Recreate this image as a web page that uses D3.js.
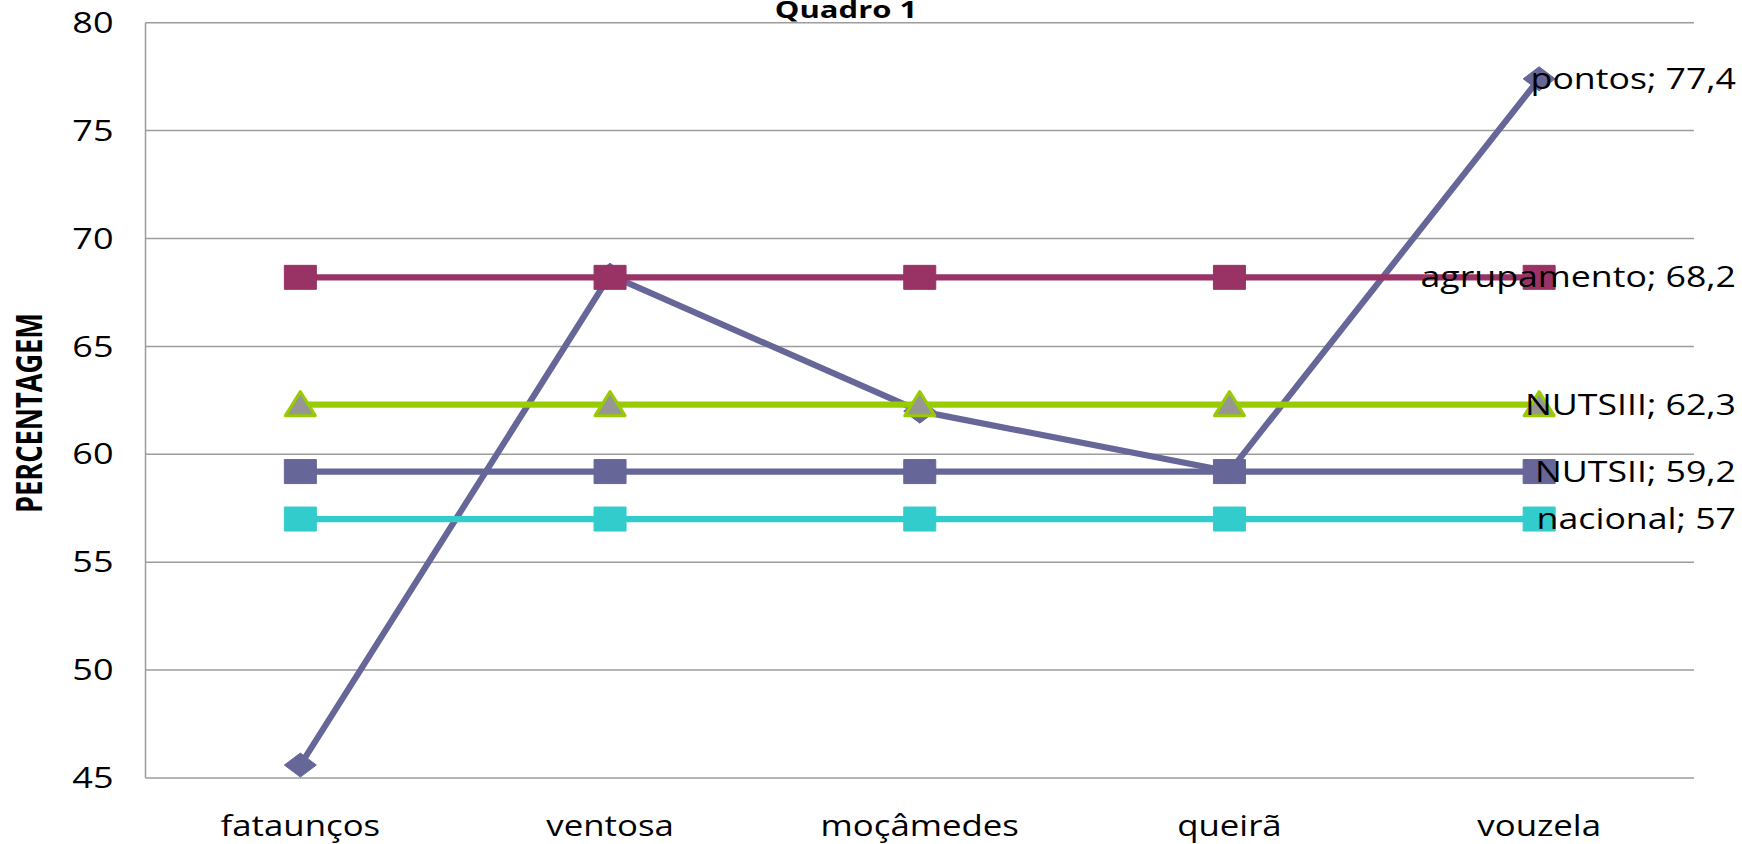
<!DOCTYPE html>
<html>
<head>
<meta charset="utf-8">
<script src="https://cdn.jsdelivr.net/npm/d3@7"></script>
<style>
  html, body { margin: 0; padding: 0; background: #fff; }
  svg { display: block; font-family: "Open Sans", "Noto Sans", sans-serif; }
  .grid line { stroke: #9c9c9c; stroke-width: 1.5; }
  .axis path, .axis line { display: none; }
</style>
</head>
<body>
<svg id="chart" width="1742" height="844"></svg>
<script>
// Quadro 1 — percentagem por local, com referências (agrupamento, NUTS, nacional)

const categories = ['fataunços', 'ventosa', 'moçâmedes', 'queirã', 'vouzela'];
const pontos = [45.6, 68.3, 62.0, 59.2, 77.4];
const agrupamento = [68.2, 68.2, 68.2, 68.2, 68.2];
const nutsIII = [62.3, 62.3, 62.3, 62.3, 62.3];
const nutsII = [59.2, 59.2, 59.2, 59.2, 59.2];
const nacional = [57, 57, 57, 57, 57];
const yTicks = [45, 50, 55, 60, 65, 70, 75, 80];

const series = [
  { name: 'pontos', values: pontos, line: '#666699', fill: '#666699', marker: 'diamond' },
  { name: 'agrupamento', values: agrupamento, line: '#993366', fill: '#993366', marker: 'square' },
  { name: 'NUTSIII', values: nutsIII, line: '#99cc00', fill: '#969696', marker: 'triangle' },
  { name: 'NUTSII', values: nutsII, line: '#666699', fill: '#666699', marker: 'square' },
  { name: 'nacional', values: nacional, line: '#33cccc', fill: '#33cccc', marker: 'square' },
];

const svg = d3.select('#chart');
const m = { left: 145.5, right: 1694, top: 22.7, bottom: 778 };

const x = d3.scaleBand().domain(categories).range([m.left, m.right]);
const cx = c => x(c) + x.bandwidth() / 2;
const y = d3.scaleLinear().domain([45, 80]).range([m.bottom, m.top]);

// the source picture is stretched sideways, so text gets widened too
function widen(sel, k) {
  sel.each(function () {
    const w = this.getComputedTextLength();
    d3.select(this).attr('textLength', w * k).attr('lengthAdjust', 'spacingAndGlyphs');
  });
}

// gridlines
svg.append('g').attr('class', 'grid')
  .selectAll('line').data(yTicks).join('line')
  .attr('x1', m.left).attr('x2', m.right)
  .attr('y1', d => y(d)).attr('y2', d => y(d));
svg.append('line')
  .attr('x1', m.left).attr('x2', m.left).attr('y1', m.top).attr('y2', m.bottom)
  .attr('stroke', '#9c9c9c').attr('stroke-width', 1.5);

// y axis
const gy = svg.append('g').attr('class', 'axis')
  .attr('transform', `translate(${m.left - 32},0)`)
  .call(d3.axisLeft(y).tickValues(yTicks).tickSize(0).tickPadding(0));
gy.selectAll('text').attr('font-size', 30).attr('fill', '#000').attr('font-family', '"Open Sans", sans-serif');
widen(gy.selectAll('text'), 1.2);

// x axis
const gx = svg.append('g').attr('class', 'axis')
  .attr('transform', `translate(0,${m.bottom})`)
  .call(d3.axisBottom(x).tickSize(0).tickPadding(0));
gx.selectAll('text').attr('font-size', 29).attr('fill', '#000')
  .attr('font-family', '"Open Sans", sans-serif')
  .attr('dy', null).attr('y', 58);
widen(gx.selectAll('text'), 1.2);

// titles
const title = svg.append('text')
  .attr('x', 846).attr('y', 18).attr('text-anchor', 'middle')
  .attr('font-size', 24).attr('font-weight', 'bold')
  .text('Quadro 1');
widen(title, 1.29);

svg.append('text')
  .attr('transform', 'translate(42,413) rotate(-90)')
  .attr('text-anchor', 'middle')
  .attr('font-size', 35).attr('font-weight', 'bold')
  .attr('textLength', 200).attr('lengthAdjust', 'spacingAndGlyphs')
  .text('PERCENTAGEM');

// markers, a bit wider than tall like the source
const MW = 16, MH = 12;
const shapes = {
  square: `M${-MW},${-MH}H${MW}V${MH}H${-MW}Z`,
  diamond: `M0,${-MH}L${MW},0L0,${MH}L${-MW},0Z`,
  triangle: `M0,${-MH - 1}L${MW - 1},${MH - 1}L${-MW + 1},${MH - 1}Z`,
};

const line = d3.line().x((d, i) => cx(categories[i])).y(d => y(d));

series.forEach(s => {
  const g = svg.append('g');
  g.append('path')
    .attr('d', line(s.values))
    .attr('fill', 'none').attr('stroke', s.line)
    .attr('stroke-width', 6.2).attr('stroke-linejoin', 'round');
  g.selectAll('path.mk').data(s.values).join('path')
    .attr('class', 'mk')
    .attr('transform', (d, i) => `translate(${cx(categories[i])},${y(d)})`)
    .attr('d', shapes[s.marker])
    .attr('fill', s.fill)
    .attr('stroke', s.marker === 'triangle' ? s.line : s.fill)
    .attr('stroke-width', s.marker === 'triangle' ? 3 : 1)
    .attr('stroke-linejoin', 'round');
});

// data labels on the last point, pushed inside the right edge
const fmt = v => String(v).replace('.', ',');
const labels = svg.append('g').selectAll('text').data(series).join('text')
  .attr('x', 1736)
  .attr('y', s => y(s.values[s.values.length - 1]) + 10)
  .attr('text-anchor', 'end')
  .attr('font-size', 29).attr('fill', '#000')
  .text(s => `${s.name}; ${fmt(s.values[s.values.length - 1])}`);
widen(labels, 1.23);
</script>
</body>
</html>
